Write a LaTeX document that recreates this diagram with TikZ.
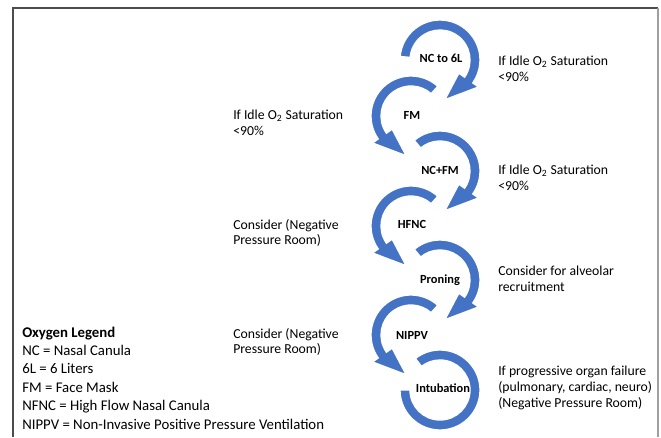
\documentclass[tikz,border=0pt]{standalone}
\usepackage{fontspec}
\setmainfont{Carlito}
\usetikzlibrary{calc}
\definecolor{ablue}{HTML}{4472C4}
\newcommand\ringRight[2]{%
\filldraw[arrowring] ($(#1)+(#2:40)$) arc[start angle=#2, end angle=-35, radius=40]
 -- ($(#1)+(-35:47)$) -- ($(#1)+(-83:40)$) -- ($(#1)+(-35:23)$) -- ($(#1)+(-35:30)$)
 arc[start angle=-35, end angle=#2, radius=30] -- cycle;}
\newcommand\ringLeft[2]{%
\filldraw[arrowring] ($(#1)+(#2:40)$) arc[start angle=#2, end angle=215, radius=40]
 -- ($(#1)+(215:47)$) -- ($(#1)+(263:40)$) -- ($(#1)+(215:23)$) -- ($(#1)+(215:30)$)
 arc[start angle=215, end angle=#2, radius=30] -- cycle;}
\begin{document}
\begin{tikzpicture}[x=0.75pt,y=0.75pt,
  arrowring/.style={fill=ablue, draw=white, line width=1pt},
  steplabel/.style={font=\fontsize{9.3}{11}\selectfont\bfseries, inner sep=0},
  sidelabel/.style={font=\fontsize{10.3}{11.8}\selectfont, align=left, anchor=west, inner sep=0},
  legendtext/.style={font=\fontsize{11.1}{13.8}\selectfont, align=left, anchor=west, inner sep=0}]
\useasboundingbox (0,0) rectangle (661,437);
\fill[white] (0,0) rectangle (661,437);
% frame
\draw[gray!60!black, line width=0.8pt] (13,0) -- (13,429) -- (658,429);
\draw[gray!75, line width=1.6pt] (658,429.4) -- (658,0);
% circle centres
\coordinate (c1) at (440,377);
\coordinate (c2) at (411,321);
\coordinate (c3) at (440,266);
\coordinate (c4) at (411,211);
\coordinate (c5) at (440,157);
\coordinate (c6) at (411,102);
\coordinate (c7) at (440,47);
% rings (drawn last to first so each head lies over the next ring)
\filldraw[arrowring] ($(c7)+(128:40)$) arc[start angle=128, end angle=-180, radius=40]
  -- ($(c7)+(180:30)$) arc[start angle=-180, end angle=128, radius=30] -- cycle;
\ringLeft{c6}{48}
\ringRight{c5}{130}
\ringLeft{c4}{48}
\ringRight{c3}{130}
\ringLeft{c2}{48}
\ringRight{c1}{175}
% step labels
\node[steplabel] (n1) at ($(c1)+(1,2)$) {NC to 6L};
\node[steplabel] (n2) at ($(c2)+(1,1)$) {FM};
\node[steplabel] (n3) at ($(c3)+(0,1)$) {NC+FM};
\node[steplabel] (n4) at ($(c4)+(1,2)$) {HFNC};
\node[steplabel] (n5) at ($(c5)+(0,0)$) {Proning};
\node[steplabel] (n6) at ($(c6)+(1,0)$) {NIPPV};
\node[steplabel] (n7) at ($(c7)+(3,2)$) {Intubation};
% side labels
\node[sidelabel] (r1) at (498,368) {If Idle O\textsubscript{2} Saturation\\<90\%};
\node[sidelabel] (r2) at (498,259.5) {If Idle O\textsubscript{2} Saturation\\<90\%};
\node[sidelabel] (r3) at (498,158) {Consider for alveolar\\recruitment};
\node[sidelabel] (r4) at (498,49) {If progressive organ failure\\(pulmonary, cardiac, neuro)\\(Negative Pressure Room)};
\node[sidelabel] (l1) at (233,314) {If Idle O\textsubscript{2} Saturation\\<90\%};
\node[sidelabel] (l2) at (233,204) {Consider (Negative\\Pressure Room)};
\node[sidelabel] (l3) at (233,95) {Consider (Negative\\Pressure Room)};
% legend
\node[legendtext] (legend) at (22,59) {\textbf{Oxygen Legend}\\NC = Nasal Canula\\6L = 6 Liters\\FM = Face Mask\\NFNC = High Flow Nasal Canula\\NIPPV = Non-Invasive Positive Pressure Ventilation};
\end{tikzpicture}
\end{document}
